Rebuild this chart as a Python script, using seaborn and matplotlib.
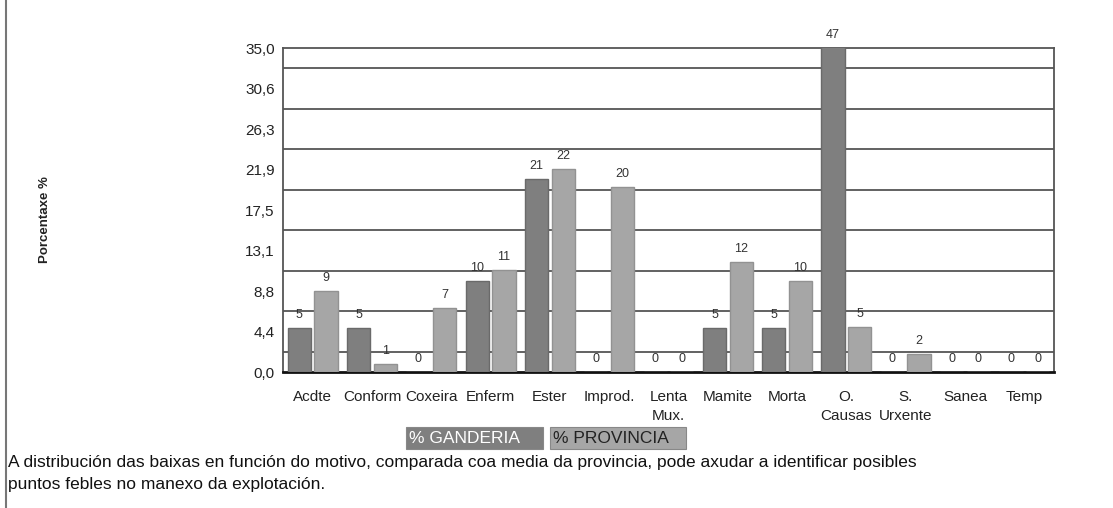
import numpy as np
import pandas as pd
import matplotlib
matplotlib.use("Agg")
import matplotlib.pyplot as plt
from matplotlib.patches import Rectangle
from matplotlib.lines import Line2D
import seaborn as sns

# datos
motivos = ["Acdte", "Conform", "Coxeira", "Enferm", "Ester", "Improd.", "Lenta\nMux.",
           "Mamite", "Morta", "O.\nCausas", "S.\nUrxente", "Sanea", "Temp"]
ganderia = [4.8, 4.8, 0, 9.8, 20.9, 0, 0, 4.8, 4.8, 47.4, 0, 0, 0]
provincia = [8.8, 0.9, 6.9, 11.0, 21.9, 20.0, 0, 11.9, 9.8, 4.9, 1.9, 0, 0]
series = ["% GANDERIA", "% PROVINCIA"]
y_ticks = [0, 4.375, 8.75, 13.125, 17.5, 21.875, 26.25, 30.625, 35.0]
y_ticklabels = ["0,0", "4,4", "8,8", "13,1", "17,5", "21,9", "26,3", "30,6", "35,0"]

cores = {"% GANDERIA": "#7f7f7f", "% PROVINCIA": "#a6a6a6"}
bordes = {"% GANDERIA": "#6a6a6a", "% PROVINCIA": "#929292"}

df = pd.DataFrame({
    "motivo": motivos * 2,
    "valor": ganderia + provincia,
    "serie": [series[0]] * len(motivos) + [series[1]] * len(motivos),
})

sns.set_theme(style="white")
plt.rcParams["font.family"] = ["Liberation Sans", "DejaVu Sans"]

W, H = 1113, 508
fig = plt.figure(figsize=(W / 100, H / 100), dpi=100)
ax = fig.add_axes([283 / W, 1 - 372 / H, (1054 - 283) / W, (372 - 48) / H])

sns.barplot(data=df, x="motivo", y="valor", hue="serie", order=motivos, hue_order=series,
            palette=cores, width=0.9, gap=0.13, saturation=1, legend=False, ax=ax, zorder=3)

# bordes e etiquetas das barras
for cont, serie, vals in zip(ax.containers, series, [ganderia, provincia]):
    for p, v in zip(cont.patches, vals):
        p.set_edgecolor(bordes[serie])
        p.set_linewidth(1)
        ax.annotate(f"{v:.0f}", (p.get_x() + p.get_width() / 2, min(v, 35)),
                    xytext=(0, 7), textcoords="offset pixels", ha="center", va="bottom",
                    fontsize=9, color="#333333", annotation_clip=False, zorder=4)

ax.set_ylim(0, 35)
ax.set_xlim(-0.5, len(motivos) - 0.5)
ax.set_yticks(y_ticks)
ax.set_yticklabels(y_ticklabels, fontsize=11, color="#222222")
mid = [(a + b) / 2 for a, b in zip(y_ticks[:-1], y_ticks[1:])]
ax.set_yticks(mid, minor=True)
ax.yaxis.grid(True, which="minor", color="#555555", linewidth=1.3, zorder=0)
ax.yaxis.grid(False, which="major")
ax.tick_params(axis="y", which="both", length=0, pad=6)

ax.set_xticks(range(len(motivos)))
ax.set_xticklabels(motivos, fontsize=11, color="#222222", linespacing=1.45, va="top")
ax.set_xticks(np.arange(-0.5, len(motivos), 1), minor=True)
ax.tick_params(axis="x", which="major", length=0, pad=13)
ax.tick_params(axis="x", which="minor", direction="in", length=3, width=1, color="#333333")

for s in ["top", "right", "left"]:
    ax.spines[s].set_color("#555555")
    ax.spines[s].set_linewidth(1.3)
ax.spines["bottom"].set_color("#111111")
ax.spines["bottom"].set_linewidth(2)
ax.set_xlabel("")
ax.set_ylabel("")

fig.text(45 / W, 1 - 220 / H, "Porcentaxe %", rotation=90, ha="center", va="center",
         fontsize=9.5, fontweight="bold", color="#222222")

# lenda
def caixa(x0, x1, cor, texto, cor_texto):
    fig.add_artist(Rectangle((x0 / W, 1 - 449 / H), (x1 - x0) / W, 22 / H,
                             transform=fig.transFigure, facecolor=cor, edgecolor="#888888", lw=0.8))
    fig.text((x0 + 3) / W, 1 - 438.5 / H, texto, ha="left", va="center",
             fontsize=12.5, color=cor_texto)

caixa(406, 543, cores[series[0]], series[0], "white")
caixa(550, 686, cores[series[1]], series[1], "#222222")

fig.text(8 / W, 1 - 463 / H,
         "A distribución das baixas en función do motivo, comparada coa media da provincia, pode axudar a identificar posibles",
         ha="left", va="center", fontsize=12.5, color="#111111")
fig.text(8 / W, 1 - 485 / H, "puntos febles no manexo da explotación.",
         ha="left", va="center", fontsize=12.5, color="#111111")

fig.add_artist(Line2D([6 / W, 6 / W], [0, 1], transform=fig.transFigure, color="#777777", lw=1.5))

fig.savefig("out.png", dpi=100)
